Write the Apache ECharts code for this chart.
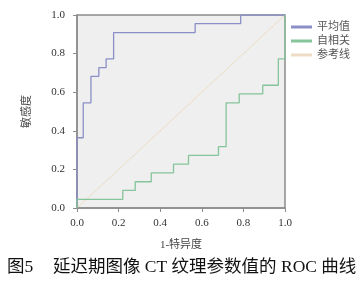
<!DOCTYPE html>
<html><head><meta charset="utf-8">
<script src="https://cdn.jsdelivr.net/npm/echarts@6/dist/echarts.min.js"></script>
<style>html,body{margin:0;padding:0;background:#fff}#c{width:363px;height:281px}</style>
</head><body><div id="c"></div>
<script>
const seriesNames = ['平均值', '自相关', '参考线'];
const fprAvg = [0, 0, 0.03, 0.067, 0.105, 0.14, 0.176, 0.568, 0.787, 1.0];
const tprAvg = [0, 0.364, 0.545, 0.682, 0.727, 0.773, 0.909, 0.955, 1.0, 1.0];
const fprAuto = [0, 0, 0.22, 0.28, 0.357, 0.464, 0.536, 0.68, 0.717, 0.78, 0.893, 0.968, 1.0];
const tprAuto = [0, 0.045, 0.091, 0.136, 0.182, 0.227, 0.273, 0.318, 0.545, 0.591, 0.636, 0.773, 1.0];
const refX = [0, 1];
const refY = [0, 1];
const xTitle = '1-特异度';
const yTitle = '敏感度';
const caption = '图5';
const captionText = '延迟期图像 CT 纹理参数值的 ROC 曲线';

const zip = (a, b) => a.map((v, i) => [v, b[i]]);
const serif = '"Liberation Serif", "Noto Sans CJK SC", serif';
const colors = ['#8b8fc6', '#86c49c', '#ecdcc4'];

const chart = echarts.init(document.getElementById('c'), null, {renderer: 'canvas'});
const axisCommon = {
  type: 'value', min: 0, max: 1, interval: 0.2,
  axisLine: {show: true, lineStyle: {color: '#8c8c8c', width: 1.5}},
  axisTick: {show: true, inside: false, length: 4, lineStyle: {color: '#8c8c8c'}},
  splitLine: {show: false},
  axisLabel: {color: '#333', fontFamily: serif, fontSize: 11, formatter: v => v.toFixed(1)},
  nameLocation: 'middle',
  nameTextStyle: {color: '#444', fontFamily: serif, fontSize: 11}
};
chart.setOption({
  animation: false,
  backgroundColor: '#fff',
  grid: {left: 77, right: 78, top: 15, bottom: 73, show: true, backgroundColor: '#efefef', borderColor: '#8c8c8c', borderWidth: 1.5},
  xAxis: Object.assign({}, axisCommon, {name: xTitle, nameGap: 32, axisLabel: Object.assign({}, axisCommon.axisLabel, {margin: 10})}),
  yAxis: Object.assign({}, axisCommon, {name: yTitle, nameGap: 44, nameRotate: 90, axisLabel: Object.assign({}, axisCommon.axisLabel, {margin: 12})}),
  legend: {
    orient: 'vertical', left: 286, top: 16, itemWidth: 21, itemHeight: 3, itemGap: 2,
    icon: 'rect',
    textStyle: {color: '#555', fontFamily: serif, fontSize: 11, lineHeight: 12},
    data: seriesNames
  },
  series: [
    {name: seriesNames[0], type: 'line', step: 'end', data: zip(fprAvg, tprAvg), symbol: 'none', lineStyle: {color: colors[0], width: 1.3}, itemStyle: {color: colors[0]}, z: 3},
    {name: seriesNames[1], type: 'line', step: 'end', data: zip(fprAuto, tprAuto), symbol: 'none', lineStyle: {color: colors[1], width: 1.3}, itemStyle: {color: colors[1]}, z: 3},
    {name: seriesNames[2], type: 'line', data: zip(refX, refY), symbol: 'none', lineStyle: {color: colors[2], width: 1}, itemStyle: {color: colors[2]}, z: 2}
  ],
  graphic: [
    {type: 'text', left: 7, top: 259, style: {text: caption, fontFamily: serif, fontSize: 17.5, fill: '#111'}},
    {type: 'text', left: 53, top: 259, style: {text: captionText, fontFamily: serif, fontSize: 17.5, fill: '#111'}}
  ]
});
</script></body></html>
